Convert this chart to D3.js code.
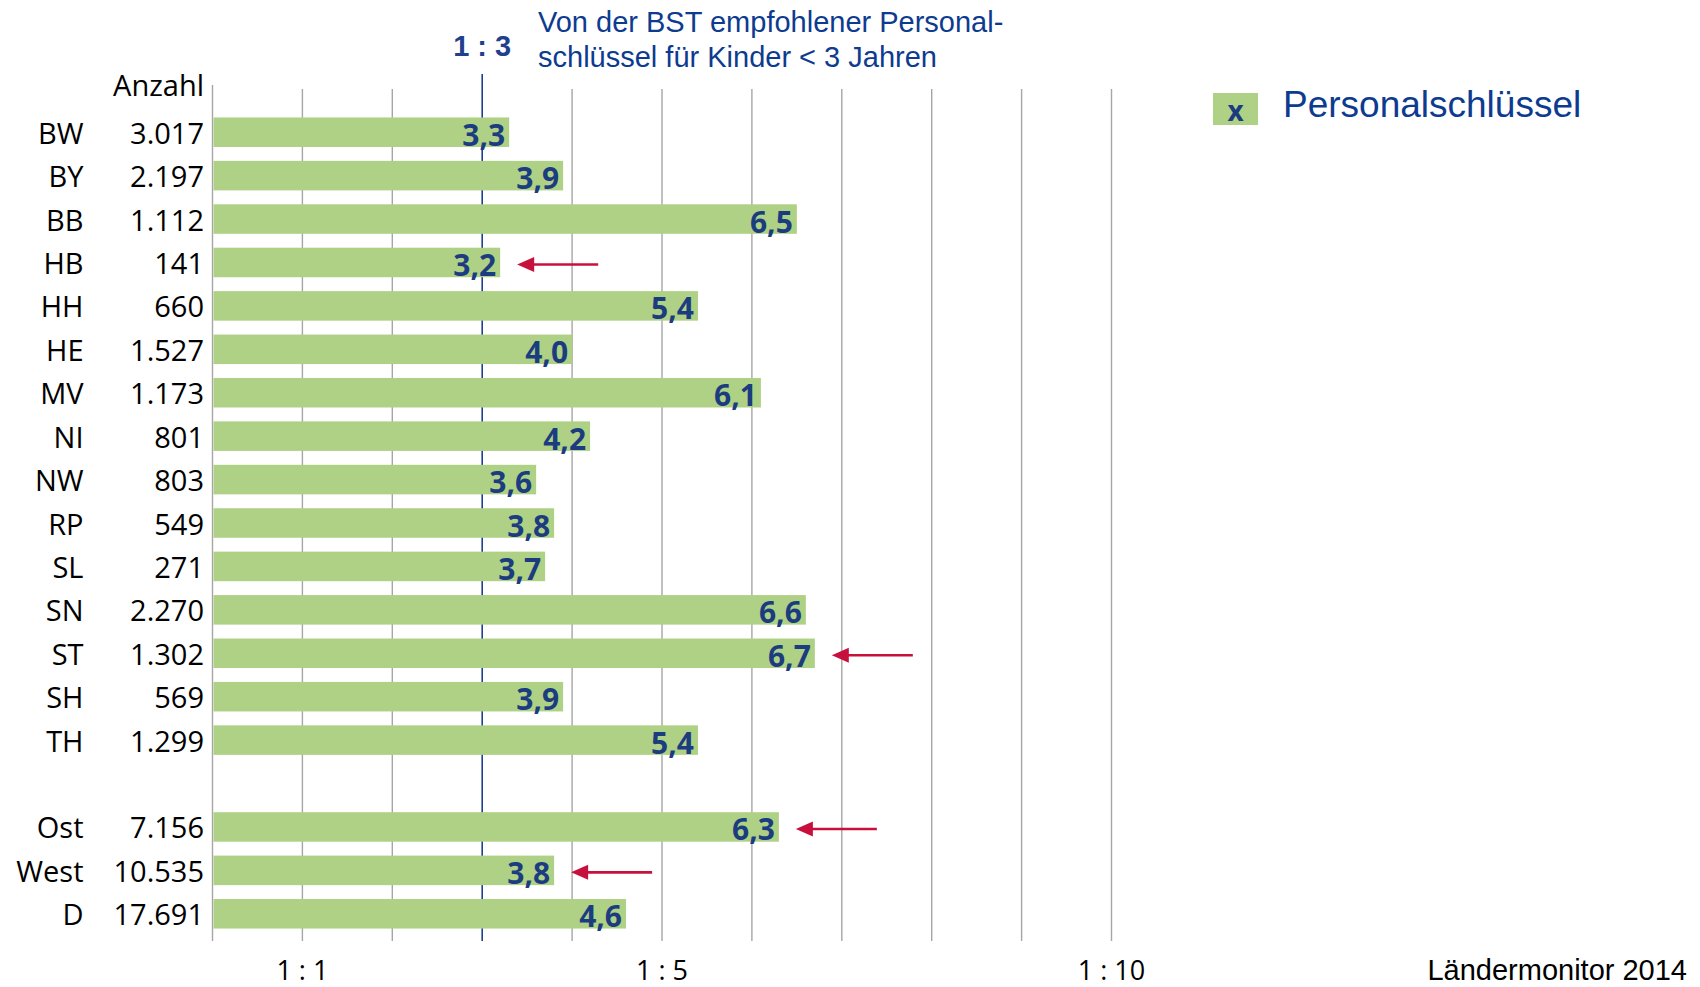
<!DOCTYPE html>
<html><head><meta charset="utf-8">
<script src="https://cdn.jsdelivr.net/npm/d3@7"></script>
<style>html,body{margin:0;padding:0;background:#fff;overflow:hidden;}</style>
</head><body>
<svg id="chart" width="1700" height="987"></svg>
<script>
const states = ["BW","BY","BB","HB","HH","HE","MV","NI","NW","RP","SL","SN","ST","SH","TH"];
const groups = ["Ost","West","D"];
const counts = ["3.017","2.197","1.112","141","660","1.527","1.173","801","803","549","271","2.270","1.302","569","1.299","7.156","10.535","17.691"];
const values = [3.3,3.9,6.5,3.2,5.4,4.0,6.1,4.2,3.6,3.8,3.7,6.6,6.7,3.9,5.4,6.3,3.8,4.6];
const arrowRows = ["HB","ST","Ost","West"];
const tickLabels = [{v:1,t:"1 : 1"},{v:5,t:"1 : 5"},{v:10,t:"1 : 10"}];
const recommended = 3;
const gridValues = [0,1,2,3,4,5,6,7,8,9,10];

const categories = states.concat(groups);
const data = categories.map((c,i)=>({cat:c,count:counts[i],value:values[i]}));
const slots = states.concat(["__gap"], groups);

const svg = d3.select("#chart");
const x = d3.scaleLinear().domain([0,10]).range([212.5, 1111.5]);
const y = d3.scaleBand().domain(slots).range([110.5, 935.5]).paddingInner(0.32).paddingOuter(0.16);

const green = "#afd185", navy = "#1b3d80", blue = "#0d3b8f", red = "#c8103c";
const fOpen = "'Open Sans', 'Noto Sans', sans-serif";
const fArial = "'Liberation Sans', Arial, sans-serif";

// gridlines
svg.append("g").selectAll("line").data(gridValues).join("line")
  .attr("x1", d=>x(d)).attr("x2", d=>x(d))
  .attr("y1", d=> d===recommended ? 74 : (d===0 ? 85 : 89))
  .attr("y2", 941)
  .attr("stroke", d=> d===recommended ? "#1f3f8f" : "#a6a6a6")
  .attr("stroke-width", d=> d===recommended ? 1.6 : 1.4);

// bars
svg.append("g").selectAll("rect").data(data).join("rect")
  .attr("x", x(0)+1).attr("y", d=>y(d.cat))
  .attr("width", d=>x(d.value)-x(0)-1).attr("height", y.bandwidth())
  .attr("fill", green);

// value labels
svg.append("g").selectAll("text").data(data).join("text")
  .attr("x", d=>x(d.value)-4).attr("y", d=>y(d.cat)+y.bandwidth()/2+2)
  .attr("text-anchor","end").attr("dominant-baseline","central")
  .attr("font-family", fOpen).attr("font-weight","bold").attr("font-size",30)
  .attr("fill", navy)
  .text(d=>d3.format(".1f")(d.value).replace(".",","));

// row labels
const rl = svg.append("g");
rl.selectAll("text.name").data(data).join("text").attr("class","name")
  .attr("x", 83.5).attr("y", d=>y(d.cat)+y.bandwidth()/2)
  .attr("text-anchor","end").attr("dominant-baseline","central")
  .attr("font-family", fOpen).attr("font-size",29).attr("fill","#000")
  .text(d=>d.cat);
rl.selectAll("text.count").data(data).join("text").attr("class","count")
  .attr("x", 204).attr("y", d=>y(d.cat)+y.bandwidth()/2)
  .attr("text-anchor","end").attr("dominant-baseline","central")
  .attr("font-family", fOpen).attr("font-size",29).attr("fill","#000")
  .text(d=>d.count);
svg.append("text").attr("x",204).attr("y",84).attr("text-anchor","end")
  .attr("dominant-baseline","central").attr("font-family",fOpen).attr("font-size",29)
  .text("Anzahl");

// x tick labels
svg.append("g").selectAll("text").data(tickLabels).join("text")
  .attr("x", d=>x(d.v)).attr("y", 980).attr("text-anchor","middle")
  .attr("font-family",fOpen).attr("font-size",27)
  .text(d=>d.t);

// recommended label
svg.append("text").attr("x", x(recommended)).attr("y", 46).attr("text-anchor","middle")
  .attr("dominant-baseline","central").attr("font-family",fArial).attr("font-weight","bold")
  .attr("font-size",29).attr("fill","#1f3f8f").text("1 : 3");
const ann = svg.append("text").attr("font-family",fArial).attr("font-size",29).attr("fill",blue);
ann.append("tspan").attr("x",538).attr("y",22).attr("dominant-baseline","central").text("Von der BST empfohlener Personal-");
ann.append("tspan").attr("x",538).attr("y",57).attr("dominant-baseline","central").text("schlüssel für Kinder < 3 Jahren");

// arrows
const arrowData = data.filter(d=>arrowRows.includes(d.cat));
svg.append("g").selectAll("line").data(arrowData).join("line")
  .attr("x1", d=>x(d.value)+30).attr("x2", d=>x(d.value)+98)
  .attr("y1", d=>y(d.cat)+y.bandwidth()/2+2).attr("y2", d=>y(d.cat)+y.bandwidth()/2+2)
  .attr("stroke", red).attr("stroke-width",2.6);
svg.append("g").selectAll("path").data(arrowData).join("path")
  .attr("transform", d=>`translate(${x(d.value)+17},${y(d.cat)+y.bandwidth()/2+2})`)
  .attr("d","M0,0 L17,-7.5 L17,7.5 Z").attr("fill",red);

// legend
svg.append("rect").attr("x",1213).attr("y",93).attr("width",45).attr("height",32).attr("fill",green);
svg.append("text").attr("x",1235.5).attr("y",110).attr("text-anchor","middle").attr("dominant-baseline","central")
  .attr("font-family",fOpen).attr("font-weight","bold").attr("font-size",28).attr("fill",navy).text("x");
svg.append("text").attr("x",1283).attr("y",104).attr("dominant-baseline","central")
  .attr("font-family",fArial).attr("font-size",37).attr("fill",blue).text("Personalschlüssel");

// source
svg.append("text").attr("x",1687).attr("y",980).attr("text-anchor","end")
  .attr("font-family",fArial).attr("font-size",29).attr("fill","#000").text("Ländermonitor 2014");
</script>
</body></html>
